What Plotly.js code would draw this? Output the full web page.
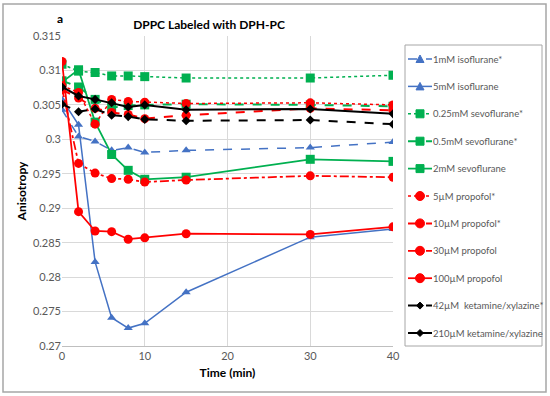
<!DOCTYPE html>
<html>
<head>
<meta charset="utf-8">
<script src="https://cdn.plot.ly/plotly-3.0.1.min.js"></script>
<style>html,body{margin:0;padding:0;background:#fff;}#chart{width:550px;height:396px;}</style>
</head>
<body>
<div id="chart"></div>
<script>
const time = [0, 2, 4, 6, 8, 10, 15, 30, 40];

const names = [
  "1mM isoflurane*",
  "5mM isoflurane",
  "0.25mM sevoflurane*",
  "0.5mM sevoflurane*",
  "2mM sevoflurane",
  "5\u00b5M propofol*",
  "10\u00b5M propofol*",
  "30\u00b5M propofol",
  "100\u00b5M propofol",
  "42\u00b5M\u00a0 ketamine/xylazine*",
  "210\u00b5M ketamine/xylazine"
];

const iso1 = [0.3043, 0.3004, 0.2997, 0.2984, 0.2988, 0.2981, 0.2984, 0.2988, 0.2996];
const iso5 = [0.3058, 0.3021, 0.2822, 0.2741, 0.2726, 0.2733, 0.2778, 0.2858, 0.2870];
const sevo025 = [0.3109, 0.3099, 0.3097, 0.3092, 0.3092, 0.3091, 0.3089, 0.3089, 0.3093];
const sevo05 = [0.3085, 0.3076, 0.3058, 0.3046, 0.3049, 0.3050, 0.3051, 0.3050, 0.3048];
const sevo2 = [0.3083, 0.3101, 0.3025, 0.2978, 0.2955, 0.2942, 0.2945, 0.2971, 0.2968];
const prop5 = [0.3078, 0.3068, 0.3022, 0.3058, 0.3055, 0.3054, 0.3052, 0.3053, 0.3050];
const prop10 = [0.3072, 0.3060, 0.3045, 0.3039, 0.3036, 0.3030, 0.3035, 0.3045, 0.3042];
const prop30 = [0.3074, 0.2965, 0.2951, 0.2943, 0.2942, 0.2938, 0.2941, 0.2947, 0.2945];
const prop100 = [0.3113, 0.2895, 0.2867, 0.2866, 0.2855, 0.2857, 0.2863, 0.2862, 0.2873];
const ket42 = [0.3051, 0.3040, 0.3044, 0.3035, 0.3033, 0.3029, 0.3027, 0.3028, 0.3022];
const ket210 = [0.3076, 0.3063, 0.3058, 0.3053, 0.3047, 0.3050, 0.3043, 0.3044, 0.3037];

const series = [iso1, iso5, sevo025, sevo05, sevo2, prop5, prop10, prop30, prop100, ket42, ket210];

const colors = ["#4472C4", "#4472C4", "#00B050", "#00B050", "#00B050", "#FF0000", "#FF0000", "#FF0000", "#FF0000", "#000000", "#000000"];
const dashes = ["dash", "solid", "dot", "dash", "solid", "dot", "dash", "dashdot", "solid", "dash", "solid"];
const symbols = ["triangle-up", "triangle-up", "square", "square", "square", "circle", "circle", "circle", "circle", "diamond", "diamond"];
const msizes = [8, 8, 9, 9, 9, 9, 9, 9, 9, 7, 7];
const lwidths = [1.5, 1.5, 1.5, 2, 1.75, 1.5, 2, 1.75, 1.75, 2, 2];

const traces = series.map((ys, i) => ({
  x: time, y: ys, name: names[i], type: "scatter", mode: "lines+markers",
  showlegend: false,
  line: {color: colors[i], dash: dashes[i], width: lwidths[i]},
  marker: {color: colors[i], symbol: symbols[i], size: msizes[i]}
}));

const fontFam = "Lato, 'Open Sans', sans-serif";

// plot area in pixels: x 62..393, y 36..346
const L = 62, R = 550 - 157, T = 36, B = 396 - 50;
const P = px => (px - L) / (R - L);
const Q = py => (B - py) / (B - T);

const shapes = [
  {type: "rect", xref: "paper", yref: "paper", x0: P(3), x1: P(546), y0: Q(392), y1: Q(4),
   line: {color: "#a6a6a6", width: 1.5}, fillcolor: "rgba(0,0,0,0)", layer: "below"},
  {type: "rect", xref: "paper", yref: "paper", x0: P(405), x1: P(542), y0: Q(346), y1: Q(45),
   line: {color: "#a6a6a6", width: 1}, fillcolor: "#ffffff", layer: "above"}
];
const annotations = [
  {text: "<b>a</b>", xref: "paper", yref: "paper", x: P(60), y: Q(19), showarrow: false,
   xanchor: "center", yanchor: "middle", font: {size: 12, color: "#000000"}}
];

// custom legend
const legTop = 59, legStep = 27.4;
function markerShape(sym, cx, cy, col) {
  const base = {xref: "paper", yref: "paper", xsizemode: "pixel", ysizemode: "pixel",
                xanchor: P(cx), yanchor: Q(cy), fillcolor: col, line: {color: col, width: 1}, layer: "above"};
  if (sym === "square") return Object.assign(base, {type: "rect", x0: -4, x1: 4, y0: -4, y1: 4});
  if (sym === "circle") return Object.assign(base, {type: "circle", x0: -4.5, x1: 4.5, y0: -4.5, y1: 4.5});
  if (sym === "triangle-up") return Object.assign(base, {type: "path", path: "M-4,-3.5 L4,-3.5 L0,4 Z"});
  return Object.assign(base, {type: "path", path: "M0,-3.5 L3.5,0 L0,3.5 L-3.5,0 Z"});
}
names.forEach((nm, i) => {
  const yy = legTop + i * legStep;
  shapes.push({type: "line", xref: "paper", yref: "paper", x0: P(408), x1: P(432), y0: Q(yy), y1: Q(yy),
               line: {color: colors[i], dash: dashes[i], width: lwidths[i]}, layer: "above"});
  shapes.push(markerShape(symbols[i], 420, yy, colors[i]));
  annotations.push({text: nm, xref: "paper", yref: "paper", x: P(431), y: Q(yy), showarrow: false,
                    xanchor: "left", yanchor: "middle", font: {family: fontFam, size: 9.5, color: "#595959"}});
});

const layout = {
  width: 550, height: 396,
  margin: {l: 62, r: 157, t: 36, b: 50, autoexpand: false},
  paper_bgcolor: "#ffffff", plot_bgcolor: "#ffffff",
  font: {family: fontFam, size: 11, color: "#595959"},
  title: {text: "<b>DPPC Labeled with DPH-PC</b>", font: {family: fontFam, size: 12, color: "#000000"},
          xref: "container", yref: "container", x: 0.38, xanchor: "center", y: 0.937, yanchor: "middle"},
  xaxis: {range: [0, 40], dtick: 10, tick0: 0, showgrid: true, gridcolor: "#d9d9d9", gridwidth: 1,
          zeroline: false, showline: true, linecolor: "#bfbfbf", ticks: "", ticklen: 0,
          tickfont: {size: 11, color: "#595959"},
          title: {text: "<b>Time (min)</b>", font: {size: 12, color: "#000000"}, standoff: 7}},
  yaxis: {range: [0.27, 0.315], dtick: 0.005, tick0: 0.27, showgrid: true, gridcolor: "#d9d9d9", gridwidth: 1,
          zeroline: false, showline: false, ticks: "",
          tickfont: {size: 11, color: "#595959"},
          title: {text: "<b>Anisotropy</b>", font: {size: 12, color: "#000000"}, standoff: 3}},
  showlegend: false,
  shapes: shapes,
  annotations: annotations
};

Plotly.newPlot("chart", traces, layout, {displayModeBar: false, staticPlot: true});
</script>
</body>
</html>
